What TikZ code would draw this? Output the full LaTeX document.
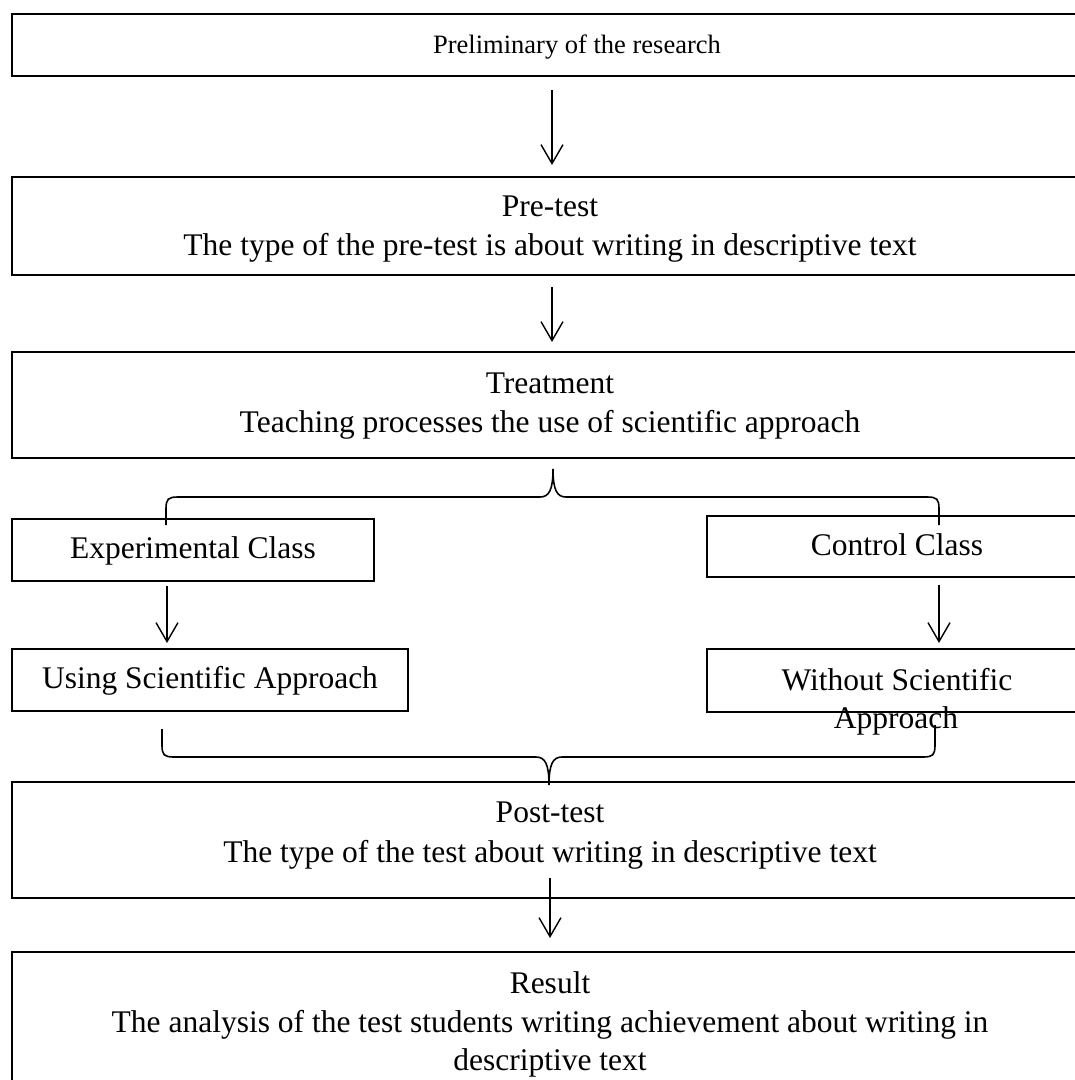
\documentclass[tikz,border=0pt]{standalone}
\usepackage{fontspec}
\setmainfont{Liberation Serif}
\usetikzlibrary{arrows.meta,calc}
\begin{document}
\begin{tikzpicture}[x=1pt,y=-1pt,
  box/.style={draw,line width=1.3pt,rectangle,inner sep=0pt,outer sep=0pt},
  txt/.style={inner sep=0pt,anchor=base,font=\fontsize{31.5}{39}\selectfont},
  arr/.style={line width=1.4pt,-{Straight Barb[length=19pt,width=22pt]}},
  brace/.style={line width=1.6pt}]
\useasboundingbox (0,0) rectangle (1075,1080);
\clip (0,0) rectangle (1075,1080);
\fill[white] (0,0) rectangle (1075,1080);
% boxes
\node[box,minimum width=1076pt,minimum height=62pt] (b1) at (550,45) {};
\node[box,minimum width=1076pt,minimum height=98pt] (b2) at (550,226) {};
\node[box,minimum width=1076pt,minimum height=106pt] (b3) at (550,405) {};
\node[box,minimum width=362pt,minimum height=62pt] (exp) at (193,550) {};
\node[box,minimum width=381pt,minimum height=61pt] (ctl) at (897.5,546.5) {};
\node[box,minimum width=396pt,minimum height=62pt] (use) at (210,680) {};
\node[box,minimum width=381pt,minimum height=63pt] (wo) at (897.5,680.5) {};
\node[box,minimum width=1076pt,minimum height=116pt] (post) at (550,840) {};
\node[box,minimum width=1076pt,minimum height=143pt] (res) at (550,1023.5) {};
% texts
\node[txt,font=\fontsize{26.5}{32}\selectfont] (t1) at (577,53) {Preliminary of the research};
\node[txt] (t2a) at (550,216) {Pre-test};
\node[txt] (t2b) at (550,255) {The type of the pre-test is about writing in descriptive text};
\node[txt] (t3a) at (550,393) {Treatment};
\node[txt] (t3b) at (550,432) {Teaching processes the use of scientific approach};
\node[txt] (t4) at (193,558) {Experimental Class};
\node[txt] (t5) at (897,555) {Control Class};
\node[txt] (t6) at (210,688) {Using Scientific Approach};
\node[txt] (t7a) at (897,690) {Without Scientific};
\node[txt] (t7b) at (896,728) {Approach};
\node[txt] (t8a) at (550,822) {Post-test};
\node[txt] (t8b) at (550,862) {The type of the test about writing in descriptive text};
\node[txt] (t9a) at (550,993) {Result};
\node[txt] (t9b) at (550,1032) {The analysis of the test students writing achievement about writing in};
\node[txt] (t9c) at (550,1070) {descriptive text};
% arrows
\draw[arr] ($(b1.south)+(2,14)$) -- ($(b2.north)+(2,-12)$);
\draw[arr] ($(b2.south)+(2,12)$) -- ($(b3.north)+(2,-10)$);
\draw[arr] ($(exp.south)+(-26,5)$) -- ($(use.north)+(-43,-6)$);
\draw[arr] ($(ctl.south)+(41.5,8)$) -- ($(wo.north)+(41.5,-6)$);
\draw[arr] ($(post.south)+(0,-20)$) -- ($(res.north)+(0,-14)$);
% braces
\draw[brace] (166,525) -- (166,509) .. controls (166,499) and (168,497) .. (178,497) -- (540,497) .. controls (549,497) and (553,490) .. (553,469) .. controls (553,490) and (557,497) .. (566,497) -- (927,497) .. controls (937,497) and (939,499) .. (939,509) -- (939,525);
\draw[brace] (162,729) -- (162,745) .. controls (162,755) and (164,757) .. (174,757) -- (536,757) .. controls (545,757) and (549,764) .. (549,785) .. controls (549,764) and (553,757) .. (562,757) -- (923,757) .. controls (933,757) and (935,755) .. (935,745) -- (935,725);
\end{tikzpicture}
\end{document}
